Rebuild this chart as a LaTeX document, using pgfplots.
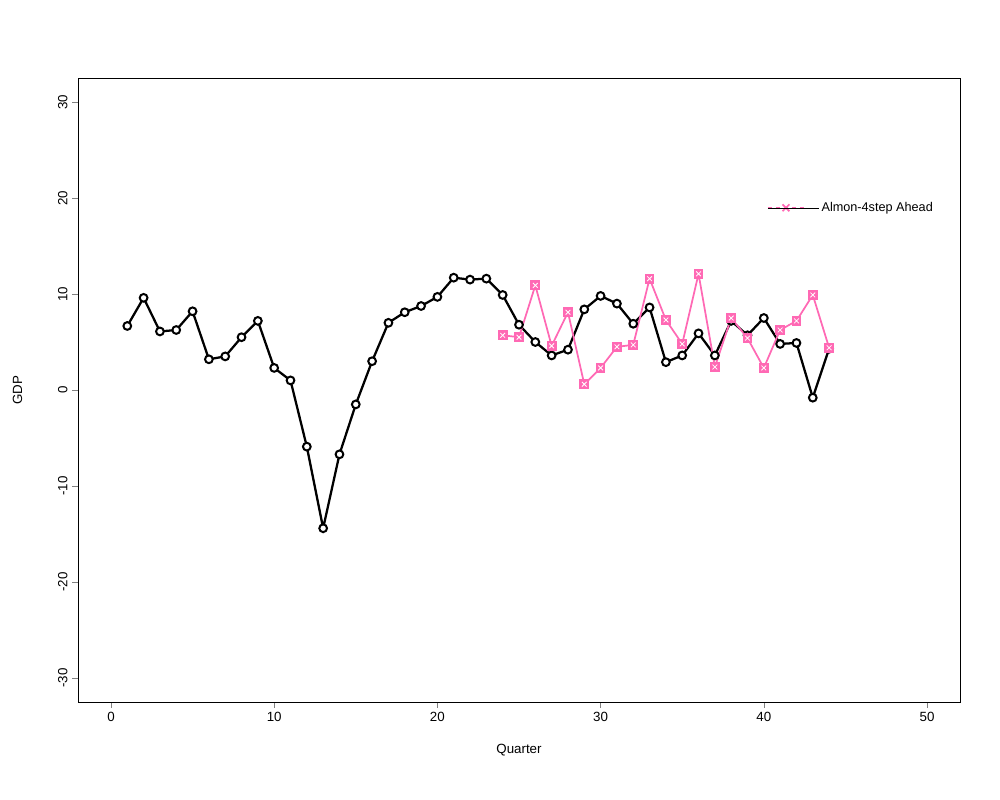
\documentclass[border=0pt]{standalone}
\usepackage{pgfplots}
\pgfplotsset{compat=1.18}
\usepackage{fontspec}
\setmainfont{Liberation Sans}
\definecolor{hp}{RGB}{255,105,180}
\begin{document}
\begin{tikzpicture}[x=0.75pt,y=0.75pt]
\useasboundingbox (0,0) rectangle (1000,800);
\begin{axis}[at={(58.5pt,73.5pt)},anchor=south west,scale only axis,
  width=661.5pt,height=468pt,
  xmin=-2.02,xmax=52.02,ymin=-32.5,ymax=32.5,
  xtick={0,10,...,50},ytick={-30,-20,...,30},
  tick align=outside,tick pos=left,
  font=\fontsize{10}{12}\selectfont,
  /pgf/number format/assume math mode=true,
  yticklabel style={rotate=90,anchor=south},
  xlabel={Quarter},ylabel={GDP},
  xlabel style={yshift=-10pt},ylabel style={yshift=20pt},
  legend style={draw=none,fill=none,at={(0.777,0.792)},anchor=west,font=\fontsize{9.5}{11}\selectfont},
  legend cell align=left]
\addplot[black,line width=1.7pt,mark=*,mark size=2.9pt,mark options={fill=white,line width=1.5pt},forget plot] coordinates {
(1,6.67)(2,9.6)(3,6.1)(4,6.25)(5,8.2)(6,3.2)(7,3.5)(8,5.5)(9,7.2)(10,2.3)
(11,1.0)(12,-5.9)(13,-14.4)(14,-6.7)(15,-1.5)(16,3.0)(17,7.0)(18,8.1)(19,8.75)(20,9.7)
(21,11.7)(22,11.5)(23,11.6)(24,9.9)(25,6.8)(26,5.0)(27,3.6)(28,4.2)(29,8.4)(30,9.8)
(31,9.0)(32,6.9)(33,8.6)(34,2.9)(35,3.6)(36,5.9)(37,3.6)(38,7.2)(39,5.7)(40,7.5)
(41,4.8)(42,4.9)(43,-0.8)(44,4.3)};
\addplot[hp,line width=1.3pt,mark=square*,mark size=3pt,mark options={fill=hp,draw=hp},forget plot] coordinates {
(24,5.7)(25,5.5)(26,10.9)(27,4.6)(28,8.1)(29,0.6)(30,2.3)(31,4.5)(32,4.7)(33,11.6)
(34,7.3)(35,4.8)(36,12.1)(37,2.4)(38,7.5)(39,5.4)(40,2.3)(41,6.25)(42,7.2)(43,9.9)(44,4.4)};
\addplot[white,line width=0.6pt,only marks,mark=x,mark size=2.5pt,forget plot] coordinates {
(24,5.7)(25,5.5)(26,10.9)(27,4.6)(28,8.1)(29,0.6)(30,2.3)(31,4.5)(32,4.7)(33,11.6)
(34,7.3)(35,4.8)(36,12.1)(37,2.4)(38,7.5)(39,5.4)(40,2.3)(41,6.25)(42,7.2)(43,9.9)(44,4.4)};
\addlegendimage{legend image code/.code={
  \draw[hp,dashed,line width=0.6pt] (0pt,0pt) -- (27pt,0pt);
  \draw[hp,line width=1.3pt] (13.5pt,0pt) +(-2.6pt,-2.6pt) -- +(2.6pt,2.6pt) +(-2.6pt,2.6pt) -- +(2.6pt,-2.6pt);
  \path (0pt,0pt) -- (38pt,0pt);}}
\addlegendentry{Almon-4step Ahead}
\end{axis}
\end{tikzpicture}
\end{document}
